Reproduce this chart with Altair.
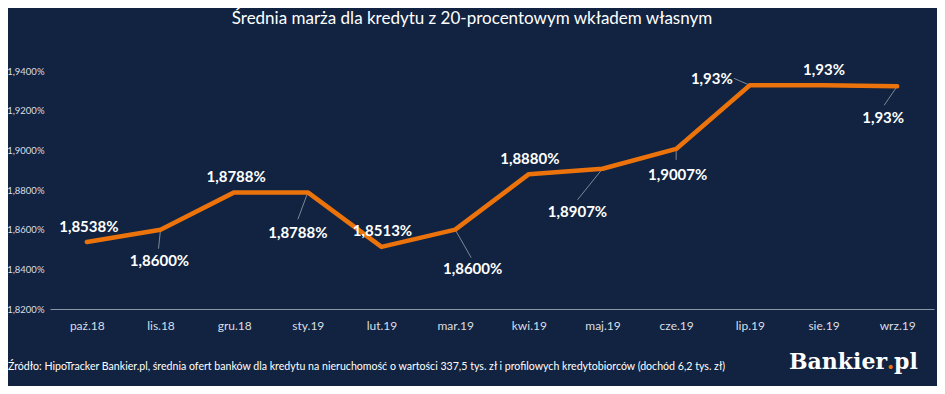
import altair as alt
import pandas as pd

# ---- data ----
months = ["paź.18", "lis.18", "gru.18", "sty.19", "lut.19", "mar.19",
          "kwi.19", "maj.19", "cze.19", "lip.19", "sie.19", "wrz.19"]
values = [1.8538, 1.8600, 1.8788, 1.8788, 1.8513, 1.8600,
          1.8880, 1.8907, 1.9007, 1.9328, 1.9328, 1.9323]
labels = ["1,8538%", "1,8600%", "1,8788%", "1,8788%", "1,8513%", "1,8600%",
          "1,8880%", "1,8907%", "1,9007%", "1,93%", "1,93%", "1,93%"]
y_ticks = [1.82, 1.84, 1.86, 1.88, 1.90, 1.92, 1.94]

title_text = "Średnia marża dla kredytu z 20-procentowym wkładem własnym"
source_text = ("Źródło: HipoTracker Bankier.pl, średnia ofert banków dla kredytu na nieruchomość "
               "o wartości 337,5 tys. zł i profilowych kredytobiorców (dochód 6,2 tys. zł)")

# ---- layout (pixels) ----
W, H = 884, 238
Y_MIN, Y_MAX = 1.82, 1.94
X_MIN, X_MAX = -0.5, len(months) - 0.5
PX_X = W / (X_MAX - X_MIN)
PX_Y = H / (Y_MAX - Y_MIN)

# label offsets (dx, dy) in px relative to point
label_off = [(2, -15), (-1, 31), (2, -15.5), (-10, 40.5), (1, -16), (17.5, 39),
             (1, -15), (-25, 43.5), (1.5, 26), (-38, -6), (0.5, -15), (-14, 32)]
# leader line end offsets (px) relative to point (None = no leader)
leader_off = [None, (-2, 19), None, (-10, 27), None, (16, 28),
              None, (-25, 31), (0, 11), (-16, -7), None, (-13, 19)]

BG = "#112340"
ORANGE = "#EC730B"
TXT = "#FFFFFF"
AXT = "#D9DEE5"
FONT = "Lato"

df = pd.DataFrame({"idx": list(range(len(months))), "val": values, "lab": labels})

lead_rows = []
for i, off in enumerate(leader_off):
    if off is None:
        continue
    lead_rows.append({
        "idx": i, "val": values[i],
        "x2": i + off[0] / PX_X, "y2": values[i] - off[1] / PX_Y,
    })
lead_df = pd.DataFrame(lead_rows)

month_arr = "[" + ",".join("'" + m + "'" for m in months) + "]"

x_scale = alt.Scale(domain=[X_MIN, X_MAX], nice=False, zero=False)
y_scale = alt.Scale(domain=[Y_MIN, Y_MAX], nice=False, zero=False)
x_axis = alt.Axis(values=list(range(len(months))), labelExpr=month_arr + "[datum.value]",
                  grid=False, ticks=False, domain=True, domainColor="#8A95A5",
                  domainWidth=1, labelColor=AXT, labelFont=FONT, labelFontSize=12,
                  labelPadding=11, labelOverlap=False, title=None)
y_axis = alt.Axis(values=y_ticks,
                  labelExpr="replace(format(datum.value, '.4f'), '.', ',') + '%'",
                  grid=False, ticks=False, domain=False, labelColor=AXT,
                  labelFont=FONT, labelFontSize=9.5, labelPadding=6,
                  labelOverlap=False, title=None)

def xe():
    return alt.X("idx:Q", scale=x_scale, axis=x_axis)

def ye():
    return alt.Y("val:Q", scale=y_scale, axis=y_axis)

leaders = alt.Chart(lead_df).mark_rule(color="#7D8898", strokeWidth=1).encode(
    x=xe(), y=ye(), x2="x2:Q", y2="y2:Q")

line = alt.Chart(df).mark_line(color=ORANGE, strokeWidth=4.5, strokeCap="round",
                               strokeJoin="round").encode(x=xe(), y=ye())

text_layers = []
for i in range(len(months)):
    dx, dy = label_off[i]
    text_layers.append(
        alt.Chart(df.iloc[[i]]).mark_text(dx=dx, dy=dy, font=FONT, fontSize=15, fontWeight="bold",
                                          color=TXT, align="center", baseline="middle")
        .encode(x=xe(), y=ye(), text="lab:N")
    )

ann = pd.DataFrame({"t": [title_text]})
title = alt.Chart(ann).mark_text(font=FONT, fontSize=17, color=TXT, align="center",
                                 baseline="middle").encode(
    x=alt.value(422), y=alt.value(-52), text=alt.value(title_text))
source = alt.Chart(ann).mark_text(font=FONT, fontSize=10.6, color=TXT, align="left",
                                  baseline="middle").encode(
    x=alt.value(-42), y=alt.value(296), text=alt.value(source_text))
logo1 = alt.Chart(ann).mark_text(font="DejaVu Serif", fontSize=22, fontWeight="bold", color=TXT,
                                 align="right", baseline="middle").encode(
    x=alt.value(837), y=alt.value(291), text=alt.value("Bankier"))
logo2 = alt.Chart(ann).mark_text(font="DejaVu Serif", fontSize=22, fontWeight="bold", color=ORANGE,
                                 align="center", baseline="middle").encode(
    x=alt.value(840.5), y=alt.value(291), text=alt.value("."))
logo3 = alt.Chart(ann).mark_text(font="DejaVu Serif", fontSize=22, fontWeight="bold", color=TXT,
                                 align="left", baseline="middle").encode(
    x=alt.value(844), y=alt.value(291), text=alt.value("pl"))

chart = alt.layer(leaders, line, *text_layers, title, source, logo1, logo2, logo3).properties(
    width=W, height=H, background=BG,
    autosize=alt.AutoSizeParams(type="none"),
    padding={"left": 42, "top": 63, "right": 3, "bottom": 77},
).configure_view(stroke=None)

chart.save("out.html", embed_options={"renderer": "svg", "actions": False})
